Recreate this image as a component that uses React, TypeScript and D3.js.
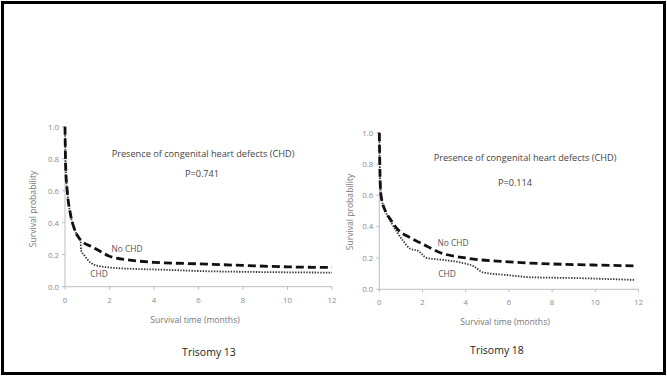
import * as d3 from 'd3'

// x / y ticks shared by both panels
const monthTicks = [0, 2, 4, 6, 8, 10, 12]
const probTicks = [0, 0.2, 0.4, 0.6, 0.8, 1.0]

// Trisomy 13 — Kaplan-Meier estimates
const t13NoChdTime = [0, 0.03, 0.1, 0.25, 0.4, 0.6, 0.8, 1.2, 1.6, 2, 3, 4, 6, 8, 10, 12]
const t13NoChdSurv = [1.0, 0.75, 0.6, 0.45, 0.37, 0.31, 0.28, 0.25, 0.22, 0.19, 0.165, 0.152, 0.143, 0.133, 0.124, 0.12]
const t13ChdTime = [0, 0.03, 0.1, 0.25, 0.4, 0.6, 0.7, 0.72, 0.9, 1.15, 1.5, 2, 3, 4.7, 6, 8, 10, 12]
const t13ChdSurv = [1.0, 0.75, 0.6, 0.45, 0.37, 0.31, 0.29, 0.23, 0.19, 0.15, 0.13, 0.12, 0.112, 0.105, 0.098, 0.093, 0.09, 0.088]

// Trisomy 18
const t18NoChdTime = [0, 0.03, 0.08, 0.28, 0.5, 0.8, 1.42, 2, 2.8, 4, 6, 8, 10, 11.8]
const t18NoChdSurv = [1.0, 0.75, 0.6, 0.5, 0.45, 0.39, 0.33, 0.29, 0.235, 0.2, 0.175, 0.162, 0.155, 0.15]
const t18ChdTime = [0, 0.03, 0.08, 0.28, 0.5, 0.8, 1.1, 1.42, 1.8, 2.2, 3, 3.8, 4.4, 4.8, 6, 7, 9, 11.8]
const t18ChdSurv = [1.0, 0.75, 0.6, 0.5, 0.44, 0.37, 0.31, 0.26, 0.245, 0.2, 0.187, 0.17, 0.145, 0.108, 0.09, 0.077, 0.072, 0.06]

const zip = (t: number[], s: number[]) => t.map((v, i) => [v, s[i]] as [number, number])

const FONT = '"Open Sans", "Liberation Sans", sans-serif'
const AXIS = '#bdbdbd'
const TICK_TXT = '#8a8a8a'

type Panel = {
  box: { x0: number; x1: number; top: number; bottom: number }
  noChd: [number, number][]
  chd: [number, number][]
  pval: string
  title: string
  labels: { pres: [number, number]; p: [number, number]; no: [number, number]; chd: [number, number]; title: [number, number]; xt: [number, number]; yt: [number, number] }
}

const panels: Panel[] = [
  {
    box: { x0: 65, x1: 332, top: 126.7, bottom: 286.7 },
    noChd: zip(t13NoChdTime, t13NoChdSurv),
    chd: zip(t13ChdTime, t13ChdSurv),
    pval: 'P=0.741',
    title: 'Trisomy 13',
    labels: { pres: [203, 156.5], p: [202, 176.5], no: [127, 251.5], chd: [99, 277], title: [209, 356], xt: [195, 323], yt: [36, 209] },
  },
  {
    box: { x0: 379.3, x1: 638.5, top: 132.7, bottom: 289.3 },
    noChd: zip(t18NoChdTime, t18NoChdSurv),
    chd: zip(t18ChdTime, t18ChdSurv),
    pval: 'P=0.114',
    title: 'Trisomy 18',
    labels: { pres: [525, 160.5], p: [515, 185.5], no: [453, 245.5], chd: [447, 276.5], title: [497, 354], xt: [505, 325], yt: [353, 212] },
  },
]

function KMPanel({ p }: { p: Panel }) {
  const { box, labels } = p
  const x = d3.scaleLinear().domain([0, 12]).range([box.x0, box.x1])
  const y = d3.scaleLinear().domain([0, 1]).range([box.bottom, box.top])
  const line = d3.line<[number, number]>().x(d => x(d[0])).y(d => y(d[1])).curve(d3.curveMonotoneX)
  return (
    <g fontFamily={FONT}>
      {/* axes */}
      <line x1={box.x0} x2={box.x0} y1={y(0)} y2={y(1)} stroke={AXIS} strokeWidth={1} />
      <line x1={box.x0} x2={box.x1} y1={y(0)} y2={y(0)} stroke={AXIS} strokeWidth={1} />
      {probTicks.map(v => (
        <g key={'y' + v}>
          <line x1={box.x0 - 3} x2={box.x0} y1={y(v)} y2={y(v)} stroke={AXIS} />
          <text x={box.x0 - 6} y={y(v) + 2.8} textAnchor="end" fontSize={7.8} fill={TICK_TXT}>{v.toFixed(1)}</text>
        </g>
      ))}
      {monthTicks.map(v => (
        <g key={'x' + v}>
          <line x1={x(v)} x2={x(v)} y1={y(0)} y2={y(0) + 3} stroke={AXIS} />
          <text x={x(v)} y={y(0) + 16} textAnchor="middle" fontSize={7.8} fill={TICK_TXT}>{v}</text>
        </g>
      ))}
      <text x={labels.xt[0]} y={labels.xt[1]} textAnchor="middle" fontSize={8.6} fill="#777">Survival time (months)</text>
      <text transform={`translate(${labels.yt[0]},${labels.yt[1]}) rotate(-90)`} textAnchor="middle" fontSize={8.6} fill="#777">Survival probability</text>

      {/* curves */}
      <path d={line(p.chd) || ''} fill="none" stroke="#333" strokeWidth={1.8} strokeDasharray="1.4,1.4" />
      <path d={line(p.noChd) || ''} fill="none" stroke="#111" strokeWidth={2.8} strokeDasharray="8,4" />

      {/* annotations */}
      <text x={labels.pres[0]} y={labels.pres[1]} textAnchor="middle" fontSize={9.2} fill="#444">Presence of congenital heart defects (CHD)</text>
      <text x={labels.p[0]} y={labels.p[1]} textAnchor="middle" fontSize={9.2} fill="#444">{p.pval}</text>
      <text x={labels.no[0]} y={labels.no[1]} textAnchor="middle" fontSize={8.4} fill="#555">No CHD</text>
      <text x={labels.chd[0]} y={labels.chd[1]} textAnchor="middle" fontSize={8.4} fill="#555">CHD</text>
      <text x={labels.title[0]} y={labels.title[1]} textAnchor="middle" fontSize={10.5} fill="#222">{p.title}</text>
    </g>
  )
}

export default function App() {
  return (
    <svg width={667} height={378} style={{ position: 'absolute', left: 0, top: 0, display: 'block', background: '#fff' }}>
      <rect x={2.5} y={2.5} width={662} height={371} fill="#fff" stroke="#000" strokeWidth={3} />
      {panels.map((p, i) => <KMPanel key={i} p={p} />)}
    </svg>
  )
}
